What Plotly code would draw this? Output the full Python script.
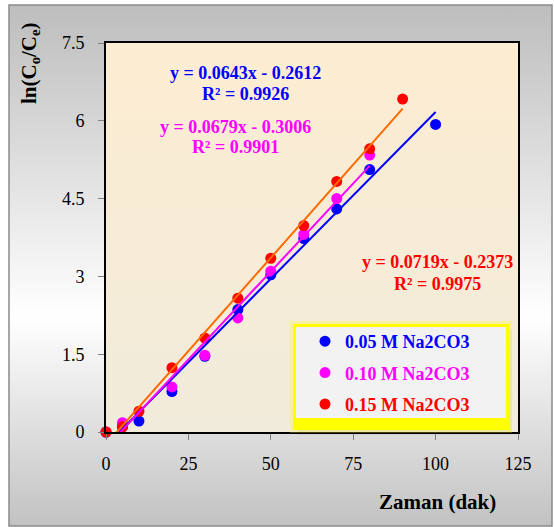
import base64
import plotly.graph_objects as go

# ---------------- data ----------------
x_005 = [0, 5, 10, 20, 30, 40, 50, 60, 70, 80, 100]
y_005 = [0, 0.10, 0.21, 0.78, 1.46, 2.36, 3.03, 3.73, 4.30, 5.06, 5.93]

x_010 = [0, 5, 20, 30, 40, 50, 60, 70, 80]
y_010 = [0, 0.18, 0.87, 1.48, 2.20, 3.10, 3.81, 4.50, 5.34]

x_015 = [0, 5, 10, 20, 30, 40, 50, 60, 70, 80, 90]
y_015 = [0, 0.10, 0.40, 1.24, 1.81, 2.58, 3.35, 3.98, 4.83, 5.46, 6.42]

series_names = ["0.05 M Na2CO3", "0.10 M Na2CO3", "0.15 M Na2CO3"]
slopes = [0.0643, 0.0679, 0.0719]
intercepts = [-0.2612, -0.3006, -0.2373]
r2 = [0.9926, 0.9901, 0.9975]

x_ticks = [0, 25, 50, 75, 100, 125]
y_ticks = [0, 1.5, 3, 4.5, 6, 7.5]
y_tick_text = ["0", "1.5", "3", "4.5", "6", "7.5"]

marker_colors = ["#0000ff", "#ff00ff", "#ff0000"]
line_colors = ["#0000ff", "#ff00ff", "#ff6a00"]

FONT = "Liberation Serif"

# plot area in pixels
L, R, T, B = 106, 518, 43, 432
W, H = 554, 527


def px(xp):
    return (xp - L) / (R - L)


def py(yp):
    return (B - yp) / (B - T)


def grad_svg(stops):
    s = "".join(f"<stop offset='{o}' stop-color='{c}'/>" for o, c in stops)
    svg = ("<svg xmlns='http://www.w3.org/2000/svg' width='100' height='100' "
           "preserveAspectRatio='none'><defs><linearGradient id='g' x1='0' y1='0' "
           f"x2='0' y2='1'>{s}</linearGradient></defs>"
           "<rect width='100' height='100' fill='url(#g)'/></svg>")
    return "data:image/svg+xml;base64," + base64.b64encode(svg.encode()).decode()


fig = go.Figure()

xs = [x_005, x_010, x_015]
ys = [y_005, y_010, y_015]

for i in range(3):
    fig.add_trace(go.Scatter(
        x=xs[i], y=ys[i], mode="markers",
        name=f"<span style='color:{marker_colors[i]}'>{series_names[i]}</span>",
        legendgroup=f"g{i}",
        marker=dict(color=marker_colors[i], size=11),
        cliponaxis=False,
    ))

for i in range(3):
    x0, x1 = 0, max(xs[i])
    fig.add_trace(go.Scatter(
        x=[x0, x1],
        y=[slopes[i] * x0 + intercepts[i], slopes[i] * x1 + intercepts[i]],
        mode="lines", showlegend=False, hoverinfo="skip",
        line=dict(color=line_colors[i], width=2),
    ))

# equations
eq_pos = [(245, 73, 94), (235, 127, 147), (437, 262, 284)]
for i in range(3):
    cx, y1, y2 = eq_pos[i]
    sign = "-" if intercepts[i] < 0 else "+"
    fig.add_annotation(
        x=px(cx), y=py(y1), xref="paper", yref="paper", showarrow=False,
        text=f"<b>y = {slopes[i]:.4f}x {sign} {abs(intercepts[i]):.4f}</b>",
        font=dict(family=FONT, size=18, color=marker_colors[i]),
        xanchor="center", yanchor="middle")
    fig.add_annotation(
        x=px(cx), y=py(y2), xref="paper", yref="paper", showarrow=False,
        text=f"<b>R² = {r2[i]:.4f}</b>",
        font=dict(family=FONT, size=18, color=marker_colors[i]),
        xanchor="center", yanchor="middle")

# axis titles
fig.add_annotation(
    x=px(30), y=py(63), xref="paper", yref="paper", showarrow=False,
    text="<b>ln(C<sub>o</sub>/C<sub>e</sub>)</b>", textangle=-90,
    font=dict(family=FONT, size=21, color="black"),
    xanchor="center", yanchor="middle")
fig.add_annotation(
    x=px(437), y=py(502), xref="paper", yref="paper", showarrow=False,
    text="<b>Zaman (dak)</b>",
    font=dict(family=FONT, size=21, color="black"),
    xanchor="center", yanchor="middle")

# backgrounds
fig.add_layout_image(
    source=grad_svg([(0, "#bdbdbd"), (0.6, "#ffffff"), (1, "#c2c2c2")]),
    xref="paper", yref="paper", x=px(9), y=py(5),
    sizex=px(552) - px(9), sizey=py(5) - py(526),
    xanchor="left", yanchor="top", sizing="stretch", layer="below")
fig.add_layout_image(
    source=grad_svg([(0, "#fdedd2"), (1, "#f1ebdb")]),
    xref="paper", yref="paper", x=0, y=1, sizex=1, sizey=1,
    xanchor="left", yanchor="top", sizing="stretch", layer="below")

# outer border
fig.add_shape(type="rect", xref="paper", yref="paper",
              x0=px(9), x1=px(552), y0=py(526), y1=py(5),
              line=dict(color="#8a8a8a", width=1.5), layer="below")

# legend box (shadow, glow, yellow frame, grey fill)
fig.add_shape(type="rect", xref="paper", yref="paper",
              x0=px(298), x1=px(512), y0=py(435), y1=py(330),
              fillcolor="rgba(0,0,0,0.05)", line=dict(width=0), layer="above")
fig.add_shape(type="rect", xref="paper", yref="paper",
              x0=px(290), x1=px(512), y0=py(433), y1=py(321),
              fillcolor="rgba(255,255,0,0.25)", line=dict(width=0), layer="above")
fig.add_shape(type="rect", xref="paper", yref="paper",
              x0=px(293), x1=px(509), y0=py(430), y1=py(324),
              fillcolor="#ffff00", line=dict(width=0), layer="above")
fig.add_shape(type="rect", xref="paper", yref="paper",
              x0=px(296), x1=px(506), y0=py(418), y1=py(327),
              fillcolor="#f2f2f2", line=dict(width=0), layer="above")

fig.update_layout(
    width=W, height=H,
    margin=dict(l=L, r=W - R, t=T, b=H - B, autoexpand=False),
    paper_bgcolor="white", plot_bgcolor="rgba(0,0,0,0)",
    font=dict(family=FONT, size=18, color="black"),
    showlegend=True,
    legend=dict(
        x=px(305), y=py(323), xanchor="left", yanchor="top",
        bgcolor="rgba(0,0,0,0)", borderwidth=0,
        font=dict(family=FONT, size=18, weight="bold"),
        tracegroupgap=5, itemwidth=30,
    ),
    xaxis=dict(
        range=[0, 125], tickvals=x_ticks, ticks="outside", ticklen=6,
        tickcolor="#808080", tickwidth=1,
        showline=True, linecolor="black", linewidth=2, mirror=True,
        showgrid=False, zeroline=False, ticklabelstandoff=8,
        tickfont=dict(family=FONT, size=18),
    ),
    yaxis=dict(
        range=[0, 7.5], tickvals=y_ticks, ticktext=y_tick_text,
        ticks="outside", ticklen=6,
        tickcolor="#808080", tickwidth=1,
        showline=True, linecolor="black", linewidth=2, mirror=True,
        showgrid=False, zeroline=False, ticklabelstandoff=10,
        tickfont=dict(family=FONT, size=18),
    ),
)

fig.write_html("out.html")
